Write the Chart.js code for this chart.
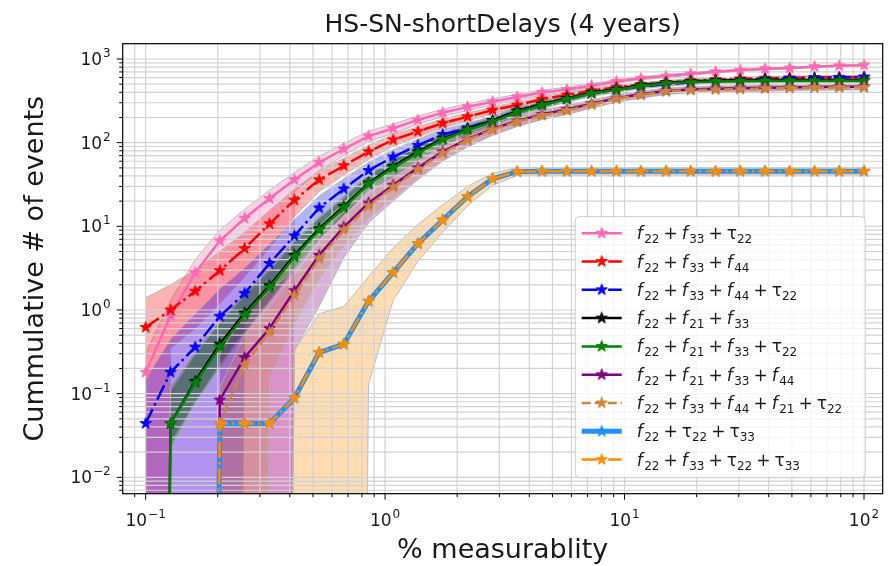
<!DOCTYPE html>
<html>
<head>
<meta charset="utf-8">
<script src="https://cdn.jsdelivr.net/npm/chart.js@4.4.1/dist/chart.umd.min.js"></script>
<style>
  html, body { margin: 0; padding: 0; background: #fff; }
  canvas { display: block; }
</style>
</head>
<body>
<canvas id="chart" width="896" height="566"></canvas>
<script>
// x samples (% measurability), log spaced from 0.1 to 100
const xVals = [0.1, 0.127, 0.161, 0.204, 0.259, 0.329, 0.418, 0.530, 0.672, 0.853,
  1.08, 1.37, 1.74, 2.21, 2.81, 3.56, 4.52, 5.74, 7.28, 9.24,
  11.7, 14.9, 18.9, 24.0, 30.4, 38.6, 48.9, 62.1, 78.8, 100];

// cumulative # of events, one array per combination (0 = nothing detected yet)
const yF22F33T22 = [0.18, 0.85, 2.8, 6.7, 12.5, 21.5, 36, 58, 84, 120,
  148, 187, 228, 268, 308, 352, 398, 432, 480, 540,
  590, 625, 665, 705, 735, 765, 780, 810, 830, 845];
const yF22F33F44 = [0.62, 1.0, 1.68, 2.95, 5.45, 10.7, 20.6, 36, 53, 78,
  108, 136, 171, 204, 245, 282, 330, 371, 418, 460,
  495, 525, 550, 568, 580, 590, 597, 602, 605, 608];
const yF22F33F44T22 = [0.044, 0.18, 0.36, 0.84, 1.58, 3.6, 7.7, 16.6, 28, 46.5,
  67.5, 93, 125, 150, 185, 240, 285, 335, 390, 430,
  470, 500, 525, 545, 560, 575, 585, 595, 600, 608];
const yF22F21F33 = [0, 0.044, 0.14, 0.39, 0.92, 1.95, 4.5, 9.4, 17.3, 33,
  52, 78, 112, 146, 183, 238, 290, 338, 398, 436,
  486, 520, 540, 552, 557, 560, 562, 562, 562, 560];
const yF22F21F33T22 = [0, 0.044, 0.134, 0.36, 0.87, 1.85, 4.3, 9, 16.6, 32,
  50, 75, 109, 142, 178, 232, 282, 330, 389, 426,
  476, 510, 530, 540, 545, 548, 550, 550, 550, 548];
const yF22F21F33F44 = [0, 0, 0, 0.084, 0.27, 0.6, 1.7, 4.5, 9.8, 19,
  31, 50, 78, 110, 146, 182, 218, 250, 292, 340,
  378, 415, 432, 440, 446, 452, 458, 462, 465, 466];
const yF22F33F44F21T22 = [0, 0, 0, 0.044, 0.222, 0.54, 1.5, 4.1, 9.0, 17.6,
  29.5, 48, 75, 108, 143, 178, 212, 242, 285, 335,
  371, 410, 426, 430, 436, 445, 452, 456, 458, 459];
const yF22T22T33 = [0, 0, 0, 0.044, 0.044, 0.044, 0.089, 0.31, 0.39, 1.27,
  2.8, 6.2, 11.9, 22.6, 37, 45, 45.5, 45.5, 45.5, 45.5,
  45.5, 45.5, 45.5, 45.5, 45.5, 45.5, 45.5, 45.5, 45.5, 45.5];
const yF22F33T22T33 = [0, 0, 0, 0.044, 0.044, 0.044, 0.089, 0.31, 0.39, 1.27,
  2.8, 6.2, 11.9, 22.6, 37, 45, 45.5, 45.5, 45.5, 45.5,
  45.5, 45.5, 45.5, 45.5, 45.5, 45.5, 45.5, 45.5, 45.5, 45.5];

// spread bands (lower / upper), 0 = reaches the bottom of the log axis
const loF22F33T22 = [0, 0, 0, 0, 0, 0, 26, 46, 70, 103,
  129, 166, 205, 243, 282, 325, 370, 404, 452, 512,
  563, 599, 640, 681, 712, 743, 759, 790, 811, 827];
const hiF22F33T22 = [0.3, 1.3, 4.0, 9.0, 16, 27, 44, 69, 98, 137,
  167, 208, 251, 293, 334, 379, 426, 460, 508, 568,
  617, 651, 690, 729, 758, 787, 801, 830, 849, 863];
const loF22F33F44 = [0, 0.35, 0.6, 1.2, 2.5, 5.5, 13, 26, 41, 63,
  91, 117, 150, 182, 222, 258, 305, 346, 391, 433,
  468, 498, 523, 541, 553, 563, 570, 575, 578, 581];
const hiF22F33F44 = [1.4, 2.0, 3.0, 5.0, 8.5, 15.5, 28, 46, 65, 93,
  125, 155, 192, 226, 268, 306, 355, 396, 445, 487,
  522, 552, 577, 595, 607, 617, 624, 629, 632, 635];
const loF22F33F44T22 = [0, 0, 0, 0, 0.7, 1.9, 4.5, 10.5, 19.5, 35,
  53, 76, 106, 129, 162, 215, 259, 308, 362, 401,
  441, 471, 496, 516, 531, 546, 556, 566, 571, 579];
const hiF22F33F44T22 = [0.15, 0.45, 0.9, 1.8, 3.2, 6.2, 12, 23, 37, 58,
  82, 110, 144, 171, 208, 265, 311, 362, 418, 459,
  499, 529, 554, 574, 589, 604, 614, 624, 629, 637];
const loF22F21F33 = [0, 0.025, 0.08, 0.22, 0.55, 1.3, 3.2, 7.3, 14, 28,
  41, 64, 95, 127, 161, 214, 264, 311, 369, 406,
  455, 489, 509, 521, 526, 529, 531, 531, 531, 529];
const hiF22F21F33 = [0, 0.12, 0.32, 0.75, 1.6, 3.2, 6.8, 13, 23, 42,
  64, 93, 130, 166, 206, 263, 317, 366, 428, 467,
  518, 552, 572, 584, 589, 592, 594, 594, 594, 592];
const loF22F21F33T22 = [0, 0.022, 0.075, 0.2, 0.52, 1.25, 3.0, 7, 13.5, 27,
  39, 62, 92, 123, 156, 208, 256, 303, 360, 396,
  445, 479, 499, 509, 514, 517, 519, 519, 519, 517];
const hiF22F21F33T22 = [0, 0.11, 0.3, 0.7, 1.5, 3.0, 6.5, 12.5, 22, 41,
  62, 90, 127, 162, 201, 257, 309, 358, 419, 457,
  508, 542, 562, 572, 577, 580, 582, 582, 582, 580];
const loF22F21F33F44 = [0, 0, 0, 0, 0, 0, 0.33, 1.1, 4.2, 11,
  20, 36, 60, 89, 122, 156, 190, 221, 261, 307,
  344, 380, 397, 405, 411, 417, 423, 427, 430, 431];
const hiF22F21F33F44 = [0, 0, 0, 0.3, 0.9, 1.7, 3.0, 7.5, 15, 27,
  42, 64, 96, 131, 170, 208, 246, 279, 323, 373,
  412, 450, 467, 475, 481, 487, 493, 497, 500, 501];
const loF22F33F44F21T22 = [0, 0, 0, 0, 0, 0.15, 0.7, 2.4, 6.0, 12.5,
  22, 38, 62, 92, 124, 157, 189, 217, 258, 305,
  340, 378, 394, 398, 404, 413, 420, 424, 426, 427];
const hiF22F33F44F21T22 = [0, 0, 0, 0.12, 0.5, 1.1, 2.5, 6.2, 12.6, 23.5,
  37.5, 58.5, 89, 125, 163, 200, 236, 268, 313, 366,
  403, 443, 459, 463, 469, 478, 485, 489, 491, 492];
const loF22F33T22T33 = [0, 0, 0, 0, 0, 0, 0, 0, 0, 0.13,
  1.3, 3.8, 8.5, 17.5, 31, 40.5, 41, 41, 41, 41,
  41, 41, 41, 41, 41, 41, 41, 41, 41, 41];
const hiF22F33T22T33 = [0, 0, 0, 0, 0, 0, 0.33, 0.9, 1.1, 2.5,
  5.5, 10.5, 18, 30, 43, 50, 50.5, 50.5, 50.5, 50.5,
  50.5, 50.5, 50.5, 50.5, 50.5, 50.5, 50.5, 50.5, 50.5, 50.5];

// axis decades carrying a "10^n" label
const xTickExps = [-1, 0, 1, 2];
const yTickExps = [-2, -1, 0, 1, 2, 3];

const DASHDOT = [16, 4, 2.5, 4];
const DASHED = [9, 4];
const series = [
  { label: 'f_22 + f_33 + τ_22', y: yF22F33T22, lo: loF22F33T22, hi: hiF22F33T22, color: '#ff69b4', dash: [], w: 2.5 },
  { label: 'f_22 + f_33 + f_44', y: yF22F33F44, lo: loF22F33F44, hi: hiF22F33F44, color: '#ff0000', dash: DASHDOT, w: 2.5 },
  { label: 'f_22 + f_33 + f_44 + τ_22', y: yF22F33F44T22, lo: loF22F33F44T22, hi: hiF22F33F44T22, color: '#0000ff', dash: DASHDOT, w: 2.5 },
  { label: 'f_22 + f_21 + f_33', y: yF22F21F33, lo: loF22F21F33, hi: hiF22F21F33, color: '#000000', dash: [], w: 2.5 },
  { label: 'f_22 + f_21 + f_33 + τ_22', y: yF22F21F33T22, lo: loF22F21F33T22, hi: hiF22F21F33T22, color: '#008000', dash: [], w: 2.5 },
  { label: 'f_22 + f_21 + f_33 + f_44', y: yF22F21F33F44, lo: loF22F21F33F44, hi: hiF22F21F33F44, color: '#800080', dash: [], w: 2.5 },
  { label: 'f_22 + f_33 + f_44 + f_21 + τ_22', y: yF22F33F44F21T22, lo: loF22F33F44F21T22, hi: hiF22F33F44F21T22, color: '#cd853f', dash: DASHED, w: 2.5 },
  { label: 'f_22 + τ_22 + τ_33', y: yF22T22T33, lo: null, hi: null, color: '#1e90ff', dash: [], w: 5 },
  { label: 'f_22 + f_33 + τ_22 + τ_33', y: yF22F33T22T33, lo: loF22F33T22T33, hi: hiF22F33T22T33, color: '#ff8c00', dash: DASHDOT, w: 2.5 }
];

// zero has no place on a log axis: push it far below, like matplotlib's clipping
const onLog = v => (v > 0 ? v : 1e-30);
const pts = arr => xVals.map((x, i) => ({ x, y: onLog(arr[i]) }));

function hexA(hex, a) {
  const n = parseInt(hex.slice(1), 16);
  return `rgba(${n >> 16},${(n >> 8) & 255},${n & 255},${a})`;
}

function starImage(color, r) {
  const s = Math.ceil(2 * r + 3);
  const c = document.createElement('canvas');
  c.width = c.height = s;
  const g = c.getContext('2d');
  g.translate(s / 2, s / 2);
  g.beginPath();
  for (let i = 0; i < 10; i++) {
    const rr = i % 2 ? r * 0.382 : r;
    const a = -Math.PI / 2 + i * Math.PI / 5;
    g.lineTo(rr * Math.cos(a), rr * Math.sin(a));
  }
  g.closePath();
  g.fillStyle = color;
  g.fill();
  g.lineWidth = 1;
  g.strokeStyle = color;
  g.stroke();
  return c;
}

const GRID_ORDER = 100;
const datasets = [];
series.forEach((s, i) => {
  s.star = starImage(s.color, 6);
  if (s.lo) {
    const edge = { borderColor: 'rgba(175,175,175,0.8)', borderWidth: 1, pointRadius: 0, order: 200 - i };
    datasets.push({ data: pts(s.lo), fill: false, ...edge });
    datasets.push({ data: pts(s.hi), fill: '-1', backgroundColor: hexA(s.color, 0.3), ...edge });
  }
});
// empty set: the grid is painted when it is drawn, i.e. above the bands, below the lines
datasets.push({ data: [], order: GRID_ORDER, pointRadius: 0 });
series.forEach((s, i) => {
  datasets.push({
    data: pts(s.y),
    borderColor: s.color,
    backgroundColor: s.color,
    borderWidth: s.w,
    borderDash: s.dash,
    pointStyle: s.star,
    pointRadius: 6,
    fill: false,
    order: 50 - i
  });
});

let xGrid = [], yGrid = [];
const X_MIN = 0.0802, X_MAX = 119.7, Y_MIN = 0.00637, Y_MAX = 1524;
for (let e = -2; e <= 2; e++) for (let m = 1; m <= 9; m++) {
  const v = m * Math.pow(10, e);
  if (v >= X_MIN && v <= X_MAX) xGrid.push(+v.toPrecision(3));
}
for (let e = -3; e <= 3; e++) for (let m = 1; m <= 9; m++) {
  const v = m * Math.pow(10, e);
  if (v >= Y_MIN && v <= Y_MAX) yGrid.push(+v.toPrecision(3));
}
const isMajor = v => Math.abs(Math.log10(v) - Math.round(Math.log10(v))) < 1e-6;

const FONT = '"DejaVu Sans", "Liberation Sans", sans-serif';
const INK = '#1a1a1a';

function powLabel(ctx, exp, x, y, align) {
  const sup = exp < 0 ? '\u2212' + (-exp) : String(exp);
  ctx.font = '17px ' + FONT;
  const wb = ctx.measureText('10').width;
  ctx.font = '12px ' + FONT;
  const ws = ctx.measureText(sup).width;
  const w = wb + 1 + ws;
  const x0 = align === 'center' ? x - w / 2 : x - w;
  ctx.font = '17px ' + FONT;
  ctx.fillText('10', x0, y);
  ctx.font = '12px ' + FONT;
  ctx.fillText(sup, x0 + wb + 1, y - 8);
}

function mathLabel(ctx, label, x, y) {
  let cx = x;
  label.split(' + ').forEach((term, i) => {
    if (i > 0) {
      ctx.font = '17px ' + FONT;
      cx += 4;
      ctx.fillText('+', cx, y);
      cx += ctx.measureText('+').width + 4;
    }
    const [base, sub] = term.split('_');
    ctx.font = (base === 'f' ? 'italic ' : '') + '17px ' + FONT;
    ctx.fillText(base, cx, y);
    cx += ctx.measureText(base).width + (base === 'f' ? 1.5 : 0);
    ctx.font = '12px ' + FONT;
    ctx.fillText(sub, cx, y + 4);
    cx += ctx.measureText(sub).width;
  });
}

const decor = {
  id: 'decor',
  afterDatasetDraw(chart, args) {
    if (args.meta.order !== GRID_ORDER) return;
    const { ctx, chartArea: a, scales: { x, y } } = chart;
    ctx.save();
    ctx.strokeStyle = '#d2d2d2';
    ctx.lineWidth = 1.2;
    ctx.beginPath();
    xGrid.forEach(v => { const p = x.getPixelForValue(v); ctx.moveTo(p, a.top); ctx.lineTo(p, a.bottom); });
    yGrid.forEach(v => { const p = y.getPixelForValue(v); ctx.moveTo(a.left, p); ctx.lineTo(a.right, p); });
    ctx.stroke();
    ctx.restore();
  },
  afterDraw(chart) {
    const { ctx, chartArea: a, scales: { x, y } } = chart;
    ctx.save();
    // frame
    ctx.strokeStyle = '#000';
    ctx.lineWidth = 1.2;
    ctx.strokeRect(a.left, a.top, a.right - a.left, a.bottom - a.top);
    // tick marks
    ctx.lineWidth = 1;
    ctx.beginPath();
    xGrid.forEach(v => {
      const p = x.getPixelForValue(v), L = isMajor(v) ? 6 : 3.5;
      ctx.moveTo(p, a.bottom); ctx.lineTo(p, a.bottom + L);
    });
    yGrid.forEach(v => {
      const p = y.getPixelForValue(v), L = isMajor(v) ? 6 : 3.5;
      ctx.moveTo(a.left, p); ctx.lineTo(a.left - L, p);
    });
    ctx.stroke();

    // tick labels
    ctx.fillStyle = INK;
    ctx.textAlign = 'left';
    ctx.textBaseline = 'alphabetic';
    xTickExps.forEach(e => powLabel(ctx, e, x.getPixelForValue(Math.pow(10, e)), a.bottom + 32, 'center'));
    yTickExps.forEach(e => powLabel(ctx, e, a.left - 12, y.getPixelForValue(Math.pow(10, e)) + 6, 'right'));

    // titles
    const cx = (a.left + a.right) / 2;
    ctx.textAlign = 'center';
    ctx.font = '25px ' + FONT;
    ctx.fillText('HS-SN-shortDelays (4 years)', cx, 31.5);
    ctx.font = '27px ' + FONT;
    ctx.fillText('% measurablity', cx, 558);
    ctx.save();
    ctx.translate(43, (a.top + a.bottom) / 2);
    ctx.rotate(-Math.PI / 2);
    ctx.fillText('Cummulative # of events', 0, 0);
    ctx.restore();

    // legend
    const bx = a.right - 17.5, by = a.bottom - 16, bw = 290, bh = 261;
    ctx.beginPath();
    ctx.roundRect(bx - bw, by - bh, bw, bh, 4);
    ctx.fillStyle = 'rgba(255,255,255,0.8)';
    ctx.fill();
    ctx.strokeStyle = '#cccccc';
    ctx.lineWidth = 1;
    ctx.stroke();
    ctx.textAlign = 'left';
    series.forEach((s, i) => {
      const ry = by - bh + 16.5 + i * 28.3;
      const lx = bx - bw + 6.5;
      ctx.save();
      ctx.strokeStyle = s.color;
      ctx.lineWidth = s.w;
      ctx.setLineDash(s.dash);
      ctx.beginPath();
      ctx.moveTo(lx, ry); ctx.lineTo(lx + 40, ry);
      ctx.stroke();
      ctx.restore();
      ctx.drawImage(s.star, lx + 20 - s.star.width / 2, ry - s.star.height / 2);
      ctx.fillStyle = INK;
      mathLabel(ctx, s.label, lx + 55, ry + 6);
    });
    ctx.restore();
  }
};

new Chart(document.getElementById('chart'), {
  type: 'line',
  data: { datasets },
  plugins: [decor],
  options: {
    responsive: false,
    animation: false,
    events: [],
    layout: { padding: { left: 122.7, right: 896 - 882.7, top: 43.7, bottom: 566 - 493.7 } },
    plugins: { legend: { display: false }, title: { display: false }, tooltip: { enabled: false } },
    scales: {
      x: {
        type: 'logarithmic', min: X_MIN, max: X_MAX,
        grid: { display: false }, border: { display: false }, ticks: { display: false },
        afterBuildTicks: s => { s.ticks = xGrid.map(v => ({ value: v })); },
        afterFit: s => { s.height = 0; }
      },
      y: {
        type: 'logarithmic', min: Y_MIN, max: Y_MAX,
        grid: { display: false }, border: { display: false }, ticks: { display: false },
        afterBuildTicks: s => { s.ticks = yGrid.map(v => ({ value: v })); },
        afterFit: s => { s.width = 0; }
      }
    }
  }
});
</script>
</body>
</html>
